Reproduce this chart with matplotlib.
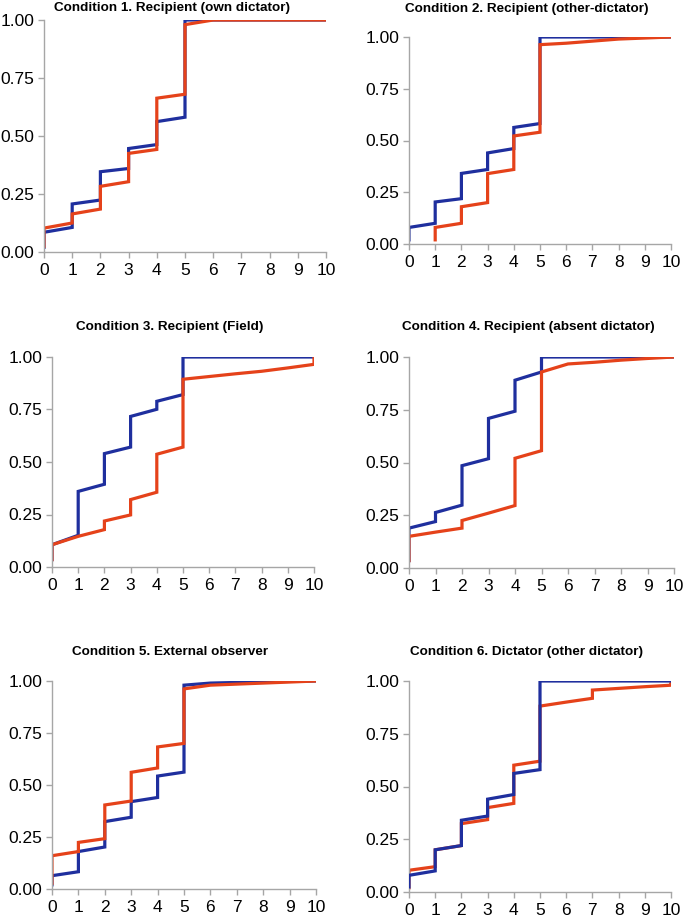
import numpy as np
import matplotlib
matplotlib.use("Agg")
import matplotlib.pyplot as plt

plt.rcParams['font.family'] = ['Liberation Sans', 'DejaVu Sans']

titles = [
    "Condition 1. Recipient (own dictator)",
    "Condition 2. Recipient (other-dictator)",
    "Condition 3. Recipient (Field)",
    "Condition 4. Recipient (absent dictator)",
    "Condition 5. External observer",
    "Condition 6. Dictator (other dictator)",
]

x_vals = list(range(11))

# value reached at x (end of the slope) and value after the jump at x
blue_lo = [
    [0.02, 0.106, 0.224, 0.36, 0.463, 0.581, 1.0, 1.0, 1.0, 1.0, 1.0],
    [0.02, 0.10, 0.219, 0.36, 0.461, 0.582, 1.0, 1.0, 1.0, 1.0, 1.0],
    [0.035, 0.151, 0.394, 0.571, 0.751, 0.821, 1.0, 1.0, 1.0, 1.0, 1.0],
    [0.035, 0.22, 0.298, 0.518, 0.743, 0.929, 1.0, 1.0, 1.0, 1.0, 1.0],
    [0.02, 0.083, 0.202, 0.345, 0.44, 0.562, 0.99, 0.993, 0.996, 0.998, 1.0],
    [0.024, 0.10, 0.22, 0.36, 0.462, 0.58, 1.0, 1.0, 1.0, 1.0, 1.0],
]
blue_hi = [
    [0.085, 0.207, 0.346, 0.446, 0.562, 1.0, 1.0, 1.0, 1.0, 1.0, 1.0],
    [0.08, 0.203, 0.341, 0.44, 0.563, 1.0, 1.0, 1.0, 1.0, 1.0, 1.0],
    [0.106, 0.36, 0.54, 0.717, 0.789, 1.0, 1.0, 1.0, 1.0, 1.0, 1.0],
    [0.189, 0.263, 0.485, 0.709, 0.89, 1.0, 1.0, 1.0, 1.0, 1.0, 1.0],
    [0.064, 0.18, 0.324, 0.42, 0.543, 0.98, 0.99, 0.993, 0.996, 0.998, 1.0],
    [0.079, 0.20, 0.34, 0.44, 0.562, 1.0, 1.0, 1.0, 1.0, 1.0, 1.0],
]
red_lo = [
    [0.024, 0.125, 0.185, 0.303, 0.442, 0.68, 1.0, 1.0, 1.0, 1.0, 1.0],
    [np.nan, 0.02, 0.10, 0.20, 0.36, 0.54, 0.97, 0.98, 0.99, 0.995, 1.0],
    [0.035, 0.146, 0.178, 0.248, 0.356, 0.571, 0.907, 0.92, 0.932, 0.948, 0.965],
    [0.035, 0.17, 0.189, 0.26, 0.296, 0.556, 0.967, 0.975, 0.985, 0.993, 1.0],
    [0.027, 0.18, 0.242, 0.423, 0.582, 0.70, 0.98, 0.985, 0.99, 0.995, 1.0],
    [0.02, 0.12, 0.22, 0.343, 0.42, 0.62, 0.90, 0.918, 0.965, 0.973, 0.98],
]
red_hi = [
    [0.103, 0.164, 0.283, 0.425, 0.663, 0.98, 1.0, 1.0, 1.0, 1.0, 1.0],
    [np.nan, 0.08, 0.18, 0.34, 0.522, 0.963, 0.97, 0.98, 0.99, 0.995, 1.0],
    [0.106, 0.146, 0.219, 0.321, 0.537, 0.894, 0.907, 0.92, 0.932, 0.948, 1.0],
    [0.15, 0.17, 0.225, 0.26, 0.52, 0.929, 0.967, 0.975, 0.985, 0.993, 1.0],
    [0.16, 0.224, 0.404, 0.561, 0.683, 0.962, 0.98, 0.985, 0.99, 0.995, 1.0],
    [0.103, 0.20, 0.324, 0.40, 0.601, 0.881, 0.90, 0.957, 0.965, 0.973, 0.99],
]

BLUE = '#1f2f9e'
RED = '#e5421a'

# axes boxes in pixels: left, right, top, bottom
boxes = [
    (44, 326, 20, 252), (409, 671, 37, 244),
    (52, 314, 357, 567), (409, 674, 357, 568),
    (52, 316, 681, 889), (409, 671, 681, 892),
]
title_pos = [(172, 8), (527, 9), (170, 327), (528, 327), (170, 652), (527, 652)]
blue_on_top = [False, False, False, False, False, True]

W, H = 685, 919
fig = plt.figure(figsize=(W / 100, H / 100), dpi=100)


def step_path(lo, hi):
    xs, ys = [], []
    for x, a, b in zip(x_vals, lo, hi):
        if np.isnan(a):
            continue
        xs += [x, x]
        ys += [a, b]
    return xs, ys


for i in range(6):
    l, r, t, b = boxes[i]
    ax = fig.add_axes([l / W, 1 - b / H, (r - l) / W, (b - t) / H])
    bx, by = step_path(blue_lo[i], blue_hi[i])
    rx, ry = step_path(red_lo[i], red_hi[i])
    zb = 3 if blue_on_top[i] else 2
    ax.plot(bx, by, color=BLUE, lw=2.3, zorder=zb, solid_joinstyle='miter')
    ax.plot(rx, ry, color=RED, lw=2.3, zorder=2.5, solid_joinstyle='miter')
    ax.set_xlim(0, 10)
    ax.set_ylim(0, 1)
    ax.set_xticks(x_vals)
    ax.set_yticks([0, 0.25, 0.5, 0.75, 1.0])
    ax.set_yticklabels(["0.00", "0.25", "0.50", "0.75", "1.00"])
    for s in ['top', 'right']:
        ax.spines[s].set_visible(False)
    for s in ['left', 'bottom']:
        ax.spines[s].set_color('#a6a6a6')
        ax.spines[s].set_linewidth(1.0)
    ax.tick_params(colors='#a6a6a6', labelcolor='black', labelsize=12.5,
                   length=4, width=1.0)
    ax.tick_params(axis='x', pad=4)
    ax.tick_params(axis='y', pad=3)
    tx, ty = title_pos[i]
    fig.text(tx / W, 1 - ty / H, titles[i], ha='center', va='center',
             fontsize=9.7, fontweight='bold')

fig.savefig("out.png", dpi=100)
